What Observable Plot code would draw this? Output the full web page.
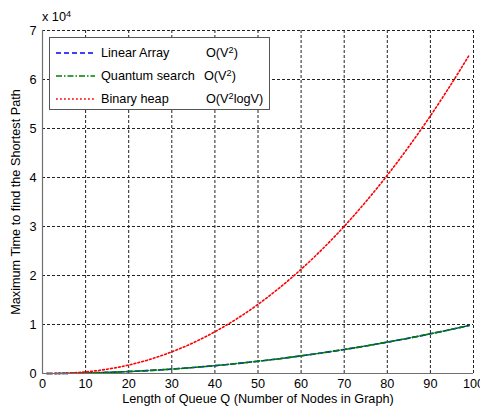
<!DOCTYPE html>
<html>
<head>
<meta charset="utf-8">
<script src="https://cdn.jsdelivr.net/npm/d3@7"></script>
<script src="https://cdn.jsdelivr.net/npm/@observablehq/plot@0.6"></script>
<style>
  html, body { margin: 0; padding: 0; background: #fff; }
  #wrap { position: relative; width: 480px; height: 411px; font-family: "Liberation Sans", Arial, sans-serif; }
  #wrap svg { font-family: "Liberation Sans", Arial, sans-serif; }
  .exp { position: absolute; left: 42px; top: 10px; font-size: 12.7px; line-height: 14px; color: #000; }
  .exp sup, .legend sup { font-size: 0.72em; line-height: 0; vertical-align: baseline; position: relative; top: -0.45em; }
  .legend { position: absolute; left: 49px; top: 37px; width: 221px; height: 73px; border: 1px solid #555; background: #fff; box-sizing: border-box; }
  .legend .row { position: absolute; left: 0; width: 219px; height: 16px; font-size: 12.7px; line-height: 16px; white-space: nowrap; color: #000; }
  .legend svg { position: absolute; left: 6px; top: 0; }
  .legend .lab { position: absolute; left: 51px; top: 0; }
  .legend .cx { position: absolute; top: 0; }
</style>
</head>
<body>
<div id="wrap"></div>
<script>
// Data (times in units of 10^4)
const nodes = [1, 5, 10, 15, 20, 25, 30, 35, 40, 45, 50, 55, 60, 65, 70, 75, 80, 85, 90, 95, 99];
const linearArray = [0.0001, 0.0025, 0.01, 0.0225, 0.04, 0.0625, 0.09, 0.1225, 0.16, 0.2025, 0.25, 0.3025, 0.36, 0.4225, 0.49, 0.5625, 0.64, 0.7225, 0.81, 0.9025, 0.98];
const quantumSearch = [0.0001, 0.0025, 0.01, 0.0225, 0.04, 0.0625, 0.09, 0.1225, 0.16, 0.2025, 0.25, 0.3025, 0.36, 0.4225, 0.49, 0.5625, 0.64, 0.7225, 0.81, 0.9025, 0.98];
const binaryHeap = [0, 0.006, 0.033, 0.088, 0.173, 0.29, 0.442, 0.628, 0.852, 1.112, 1.411, 1.749, 2.127, 2.545, 3.003, 3.504, 4.046, 4.631, 5.258, 5.929, 6.497];
const xTicks = [0, 10, 20, 30, 40, 50, 60, 70, 80, 90, 100];
const yTicks = [0, 1, 2, 3, 4, 5, 6, 7];
const seriesNames = ["Linear Array", "Quantum search", "Binary heap"];
const complexities = ["V<sup>2</sup>", "V<sup>2</sup>", "V<sup>2</sup>logV"];
const xTitle = "Length of Queue Q (Number of Nodes in Graph)";
const yTitle = "Maximum Time to find the Shortest Path";

const styles = [
  {stroke: "#0000ff", dash: "5,3", width: 1.6},
  {stroke: "#008000", dash: "6,2,1.5,2", width: 1.6},
  {stroke: "#ff0000", dash: "1.8,2.2", width: 1.6}
];
const seriesValues = [linearArray, quantumSearch, binaryHeap];
const rows = [];
seriesValues.forEach((vals, s) => nodes.forEach((n, i) => rows.push({series: seriesNames[s], n, t: vals[i]})));

const chart = Plot.plot({
  width: 480,
  height: 411,
  marginLeft: 42,
  marginRight: 7,
  marginTop: 30,
  marginBottom: 38,
  x: {domain: [0, 100], ticks: xTicks, tickSize: 0, tickPadding: 5, label: null},
  y: {domain: [0, 7], ticks: yTicks, tickSize: 0, tickPadding: 6, label: null, tickFormat: d => String(d)},
  style: {fontSize: "12.7px", fontFamily: "Liberation Sans, Arial, sans-serif", color: "#000", background: "#fff"},
  marks: [
    Plot.ruleX(xTicks.slice(1), {stroke: "#222", strokeDasharray: "3,2"}),
    Plot.ruleY(yTicks.slice(1), {stroke: "#222", strokeDasharray: "3,2"}),
    ...seriesNames.map((name, s) => Plot.line(rows.filter(r => r.series === name), {
      x: "n", y: "t", stroke: styles[s].stroke, strokeWidth: styles[s].width, strokeDasharray: styles[s].dash, curve: "catmull-rom"
    })),
    Plot.ruleX([0], {stroke: "#707070", strokeWidth: 1.2}),
    Plot.ruleY([0], {stroke: "#707070", strokeWidth: 1.2}),
    Plot.text([xTitle], {text: d => d, frameAnchor: "bottom", dy: 29, fontSize: 12.7}),
    Plot.text([yTitle], {text: d => d, frameAnchor: "left", textAnchor: "middle", rotate: -90, dx: -27, fontSize: 12.7})
  ]
});

const wrap = document.getElementById("wrap");
wrap.appendChild(chart);

const exp = document.createElement("div");
exp.className = "exp";
exp.innerHTML = "x 10<sup>4</sup>";
wrap.appendChild(exp);

const legend = document.createElement("div");
legend.className = "legend";
const cxLeft = [156, 154, 156];
seriesNames.forEach((name, i) => {
  const row = document.createElement("div");
  row.className = "row";
  row.style.top = (7 + i * 23) + "px";
  row.innerHTML =
    `<svg width="40" height="16"><line x1="0" x2="39" y1="8" y2="8" stroke="${styles[i].stroke}" stroke-width="${styles[i].width}" stroke-dasharray="${styles[i].dash}"/></svg>` +
    `<span class="lab">${name}</span>` +
    `<span class="cx" style="left:${cxLeft[i]}px">O(${complexities[i]})</span>`;
  legend.appendChild(row);
});
wrap.appendChild(legend);
</script>
</body>
</html>
